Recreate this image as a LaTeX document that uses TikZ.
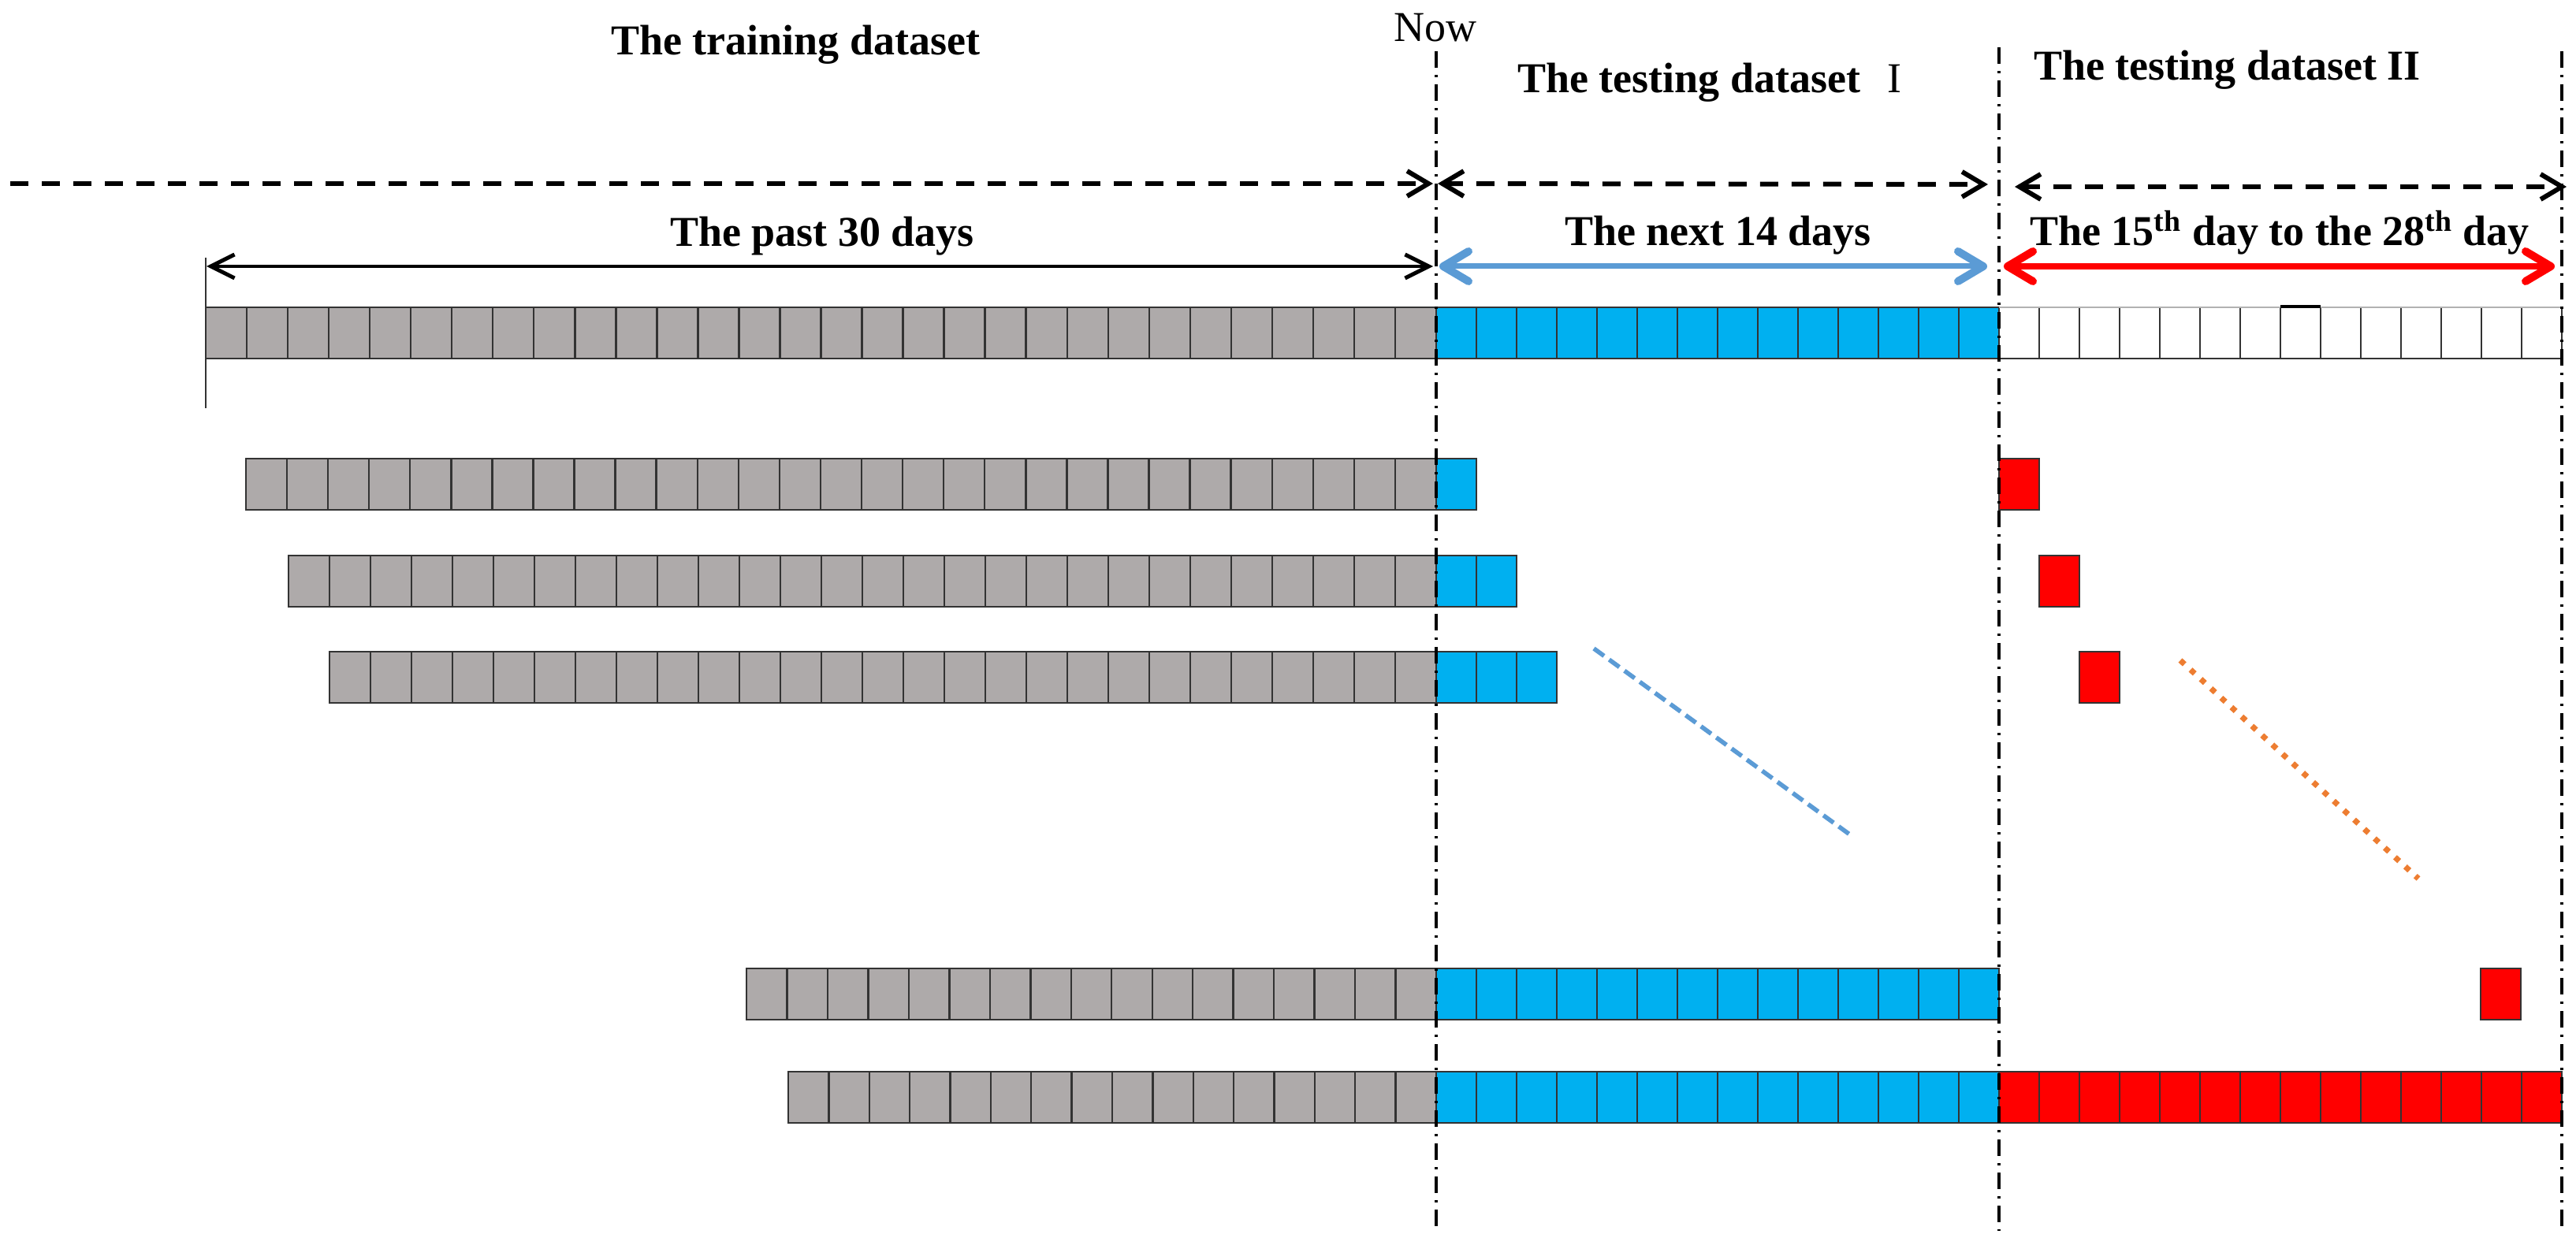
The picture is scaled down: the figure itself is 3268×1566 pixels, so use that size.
\documentclass[tikz,border=0pt]{standalone}
\usepackage{fontspec}
\setmainfont{Liberation Serif}
\usetikzlibrary{arrows.meta}
\definecolor{cellgray}{HTML}{AEAAAA}
\definecolor{cellblue}{HTML}{00B0F0}
\definecolor{cellred}{HTML}{FF0000}
\definecolor{arrowblue}{HTML}{5B9BD5}
\definecolor{dotorange}{HTML}{ED7D31}
\definecolor{edge}{HTML}{333333}
\tikzset{
  cellbox/.style={draw=edge, line width=1.2pt},
  divider/.style={line width=1.7pt, dash pattern=on 10.5pt off 4.5pt on 1.5pt off 4.5pt},
  spanarrow/.style={line width=3pt, dash pattern=on 11.5pt off 8.5pt},
  barbsmall/.tip={Straight Barb[length=13.5pt,width=16pt,line width=3pt]},
  barbmid/.tip={Straight Barb[length=15pt,width=15pt,line width=2.5pt]},
  barbfat/.tip={Straight Barb[length=16pt,width=19pt,line width=5pt,round]},
  lbl/.style={inner sep=0pt, anchor=base west, font=\fontsize{27}{32}\selectfont\bfseries},
}
\newcommand\cellrow[5]{%
  \foreach \i in {1,...,#3}{\draw[cellbox, fill=#5] ({#2+(\i-1)*#4},#1) rectangle ++(#4,65);}}
\begin{document}
\begin{tikzpicture}[x=0.5pt,y=-0.5pt]
\useasboundingbox (0,0) rectangle (3268,1566);
% ---- rows of cells ----
% row 1
\cellrow{390}{261}{30}{52.033}{cellgray}
\cellrow{390}{1822}{14}{51}{cellblue}
\cellrow{390}{2536}{14}{51}{white}
\draw[gray!60, line width=1.2pt] (2536,390) -- (3250,390);
\draw[black, line width=2pt] (2893,389) -- (2944,389);
% row 2
\cellrow{582}{312}{29}{52.069}{cellgray}
\cellrow{582}{1822}{1}{51}{cellblue}
\cellrow{582}{2536}{1}{51}{cellred}
% row 3
\cellrow{705}{366}{28}{52}{cellgray}
\cellrow{705}{1822}{2}{51}{cellblue}
\cellrow{705}{2587}{1}{51}{cellred}
% row 4
\cellrow{827}{418}{27}{52}{cellgray}
\cellrow{827}{1822}{3}{51}{cellblue}
\cellrow{827}{2638}{1}{51}{cellred}
% row 5
\cellrow{1229}{947}{17}{51.47}{cellgray}
\cellrow{1229}{1822}{14}{51}{cellblue}
\cellrow{1229}{3147}{1}{51}{cellred}
% row 6
\cellrow{1360}{1000}{16}{51.375}{cellgray}
\cellrow{1360}{1822}{14}{51}{cellblue}
\cellrow{1360}{2536}{14}{51}{cellred}
% left tick
\coordinate (tk0) at (261,327);
\coordinate (tk1) at (261,518);
\draw[black!80, line width=1.1pt] (tk0) -- (tk1);
% ---- dash-dot dividers ----
\coordinate (v1t) at (1822,65);  \coordinate (v1b) at (1822,1562);
\coordinate (v2t) at (2536,60);  \coordinate (v2b) at (2536,1562);
\coordinate (v3t) at (3250,65);  \coordinate (v3b) at (3250,1562);
\draw[divider] (v1t) -- (v1b);
\draw[divider] (v2t) -- (v2b);
\draw[divider] (v3t) -- (v3b);
% ---- dashed span arrows ----
\coordinate (d0) at (13,233);
\coordinate (d1) at (1818,233);
\coordinate (d2) at (1824,233);
\coordinate (d3) at (2522,234);
\coordinate (d4) at (2556,237);
\coordinate (d5) at (3256,237);
\draw[spanarrow, -barbsmall] (d0) -- (d1);
\draw[spanarrow, barbsmall-barbsmall] (d2) -- (d3);
\draw[spanarrow, barbsmall-barbsmall] (d4) -- (d5);
% ---- solid span arrows ----
\coordinate (p0) at (262,338);
\coordinate (p1) at (1818,338);
\draw[black, line width=2pt, barbmid-barbmid] (p0) -- (p1);
\coordinate (n0) at (1826,338);
\coordinate (n1) at (2521,338);
\draw[arrowblue, line width=3.5pt, barbfat-barbfat] (n0) -- (n1);
\coordinate (r0) at (2542,338);
\coordinate (r1) at (3241,338);
\draw[cellred, line width=4pt, barbfat-barbfat] (r0) -- (r1);
% ---- diagonal ellipsis lines ----
\coordinate (b0) at (2022,823);
\coordinate (b1) at (2348,1060);
\draw[arrowblue, line width=2.8pt, dash pattern=on 8pt off 4pt] (b0) -- (b1);
\coordinate (o0) at (2766,838);
\coordinate (o1) at (3068,1115);
\draw[dotorange, line width=3.6pt, dash pattern=on 3.6pt off 5.2pt] (o0) -- (o1);
% ---- labels ----
\node[lbl] (ttrain) at (775,70) {The training dataset};
\node[lbl, font=\fontsize{27}{32}\selectfont] (tnow) at (1768,53) {Now};
\node[lbl] (ttest1) at (1925,118) {The testing dataset\hspace{17pt}{\mdseries I}};
\node[lbl] (ttest2) at (2580,102) {The testing dataset II};
\node[lbl] (tpast) at (850,313) {The past 30 days};
\node[lbl] (tnext) at (1985,312) {The next 14 days};
\node[lbl] (tfif) at (2575,312) {The 15\textsuperscript{th} day to the 28\textsuperscript{th} day};
\end{tikzpicture}
\end{document}
